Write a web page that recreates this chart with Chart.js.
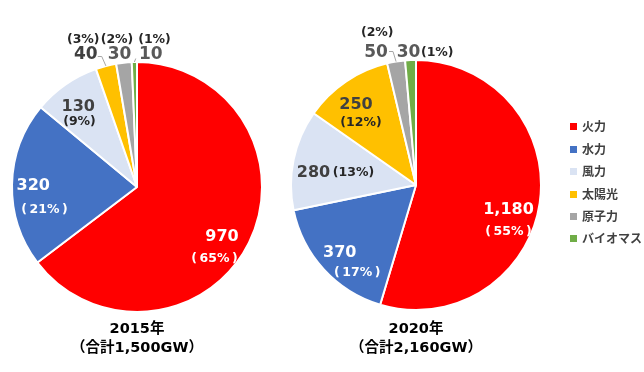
<!DOCTYPE html>
<html>
<head>
<meta charset="utf-8">
<script src="https://cdn.jsdelivr.net/npm/chart.js@4/dist/chart.umd.min.js"></script>
<style>
  html, body { margin:0; padding:0; background:#fff; }
  #wrap { position:relative; width:644px; height:372px; overflow:hidden; }
  canvas { position:absolute; left:0; top:0; }
  .ttl { position:absolute; width:200px; text-align:center; font:bold 14.5px "DejaVu Sans","Noto Sans CJK JP",sans-serif; color:#000; line-height:17px; }
  .ttl span { font-family:"Noto Sans CJK JP",sans-serif; }
  .lg { position:absolute; left:570px; font:bold 12px "Noto Sans CJK JP",sans-serif; color:#404040; height:18px; line-height:18px; white-space:nowrap; }
  .lg i { display:inline-block; width:7px; height:7px; margin-right:5px; vertical-align:middle; position:relative; top:-1px; }
</style>
</head>
<body>
<div id="wrap">
  <canvas id="c1" width="644" height="372"></canvas>
  <canvas id="c2" width="644" height="372"></canvas>
</div>
<script>
// ---- data ----
const categories = ['火力', '水力', '風力', '太陽光', '原子力', 'バイオマス'];
const values2015 = [970, 320, 130, 40, 30, 10];
const values2020 = [1180, 370, 280, 250, 50, 30];
const pct2015 = ['65%', '21%', '9%', '3%', '2%', '1%'];
const pct2020 = ['55%', '17%', '13%', '12%', '2%', '1%'];
const yearTitles = ['2015年', '2020年'];
const totalTitles = ['合計1,500GW', '合計2,160GW'];

// ---- style ----
const colors = ['#FF0000', '#4472C4', '#DAE3F3', '#FFC000', '#A5A5A5', '#70AD47'];
const textColors = ['#FFFFFF', '#FFFFFF', '#404040', '#404040', '#595959', '#595959'];
const pctColors = ['#FFFFFF', '#FFFFFF', '#262626', '#262626', '#262626', '#262626'];
const wideParens = [true, true, false, false, false, false];
// label anchors relative to pie centre, in units of radius: [vx, vy, px, py]
const labelPos2015 = [[0.68,0.40,0.62,0.57],[-0.83,-0.01,-0.74,0.18],[-0.47,-0.64,-0.46,-0.52],[-0.41,-1.06,-0.43,-1.18],[-0.14,-1.06,-0.16,-1.18],[0.11,-1.06,0.14,-1.18]];
const labelPos2020 = [[0.74,0.20,0.74,0.37],[-0.61,0.54,-0.47,0.70],[-0.82,-0.10,-0.50,-0.10],[-0.48,-0.64,-0.44,-0.50],[-0.32,-1.06,-0.31,-1.22],[-0.06,-1.06,0.17,-1.06]];
const outsideValFont = 'bold 17px "DejaVu Sans","Noto Sans CJK JP",sans-serif';
const valFont = 'bold 16px "DejaVu Sans","Noto Sans CJK JP",sans-serif';
const pctFont = 'bold 12.5px "DejaVu Sans","Noto Sans CJK JP",sans-serif';

function labelPlugin(vals, pcts, pos, leaders) {
  return {
    id: 'lbl',
    afterDatasetsDraw(chart) {
      const ctx = chart.ctx;
      const meta = chart.getDatasetMeta(0);
      const arc0 = meta.data[0];
      const cx = arc0.x, cy = arc0.y, r = arc0.outerRadius;
      ctx.save();
      ctx.textAlign = 'center';
      ctx.textBaseline = 'middle';
      ctx.strokeStyle = '#A6A6A6';
      ctx.lineWidth = 1;
      leaders.forEach(l => {
        const arc = meta.data[l.i];
        const mid = (arc.startAngle + arc.endAngle) / 2;
        const ex = cx + Math.cos(mid) * r, ey = cy + Math.sin(mid) * r;
        const sx = cx + pos[l.i][0] * r + l.dx, sy = cy + pos[l.i][1] * r + l.dy;
        ctx.beginPath();
        ctx.moveTo(sx, sy);
        ctx.lineTo(sx + l.hx, sy);
        ctx.lineTo(ex, ey);
        ctx.stroke();
      });
      vals.forEach((v, i) => {
        const p = pos[i];
        const outside = Math.hypot(p[0], p[1]) > 1;
        ctx.font = outside ? outsideValFont : valFont;
        ctx.fillStyle = textColors[i];
        ctx.fillText(v.toLocaleString('en-US'), cx + p[0] * r, cy + p[1] * r);
        ctx.fillStyle = pctColors[i];
        ctx.font = pctFont;
        const txt = wideParens[i] ? '(\u2009' + pcts[i] + '\u2009)' : '(' + pcts[i] + ')';
        ctx.fillText(txt, cx + p[2] * r, cy + p[3] * r);
      });
      ctx.restore();
    }
  };
}

function makePie(id, vals, pad, plugin) {
  return new Chart(document.getElementById(id), {
    type: 'pie',
    data: {
      labels: categories,
      datasets: [{ data: vals, backgroundColor: colors, borderColor: '#FFFFFF', borderWidth: 2 }]
    },
    options: {
      responsive: false,
      animation: false,
      layout: { padding: pad },
      plugins: { legend: { display: false }, tooltip: { enabled: false } }
    },
    plugins: [plugin]
  });
}

makePie('c1', values2015, { left: 11, right: 381, top: 61, bottom: 59 },
  labelPlugin(values2015, pct2015, labelPos2015, [
    { i: 3, dx: 12, dy: 2, hx: 4 },
    { i: 5, dx: -15, dy: 4, hx: 0 }
  ]));
makePie('c2', values2020, { left: 290, right: 102, top: 59, bottom: 61 },
  labelPlugin(values2020, pct2020, labelPos2020, [
    { i: 4, dx: 13, dy: -1, hx: 4 }
  ]));

// titles
const wrap = document.getElementById('wrap');
const titleX = [137, 416];
yearTitles.forEach((t, k) => {
  const d = document.createElement('div');
  d.className = 'ttl';
  d.style.left = (titleX[k] - 100) + 'px';
  d.style.top = '320px';
  d.innerHTML = t + '<br><span>（</span>' + totalTitles[k] + '<span>）</span>';
  wrap.appendChild(d);
});
// legend
const legendY = [126, 149, 171, 194, 216, 238];
categories.forEach((c, i) => {
  const d = document.createElement('div');
  d.className = 'lg';
  d.style.top = (legendY[i] - 9) + 'px';
  d.innerHTML = '<i style="background:' + colors[i] + '"></i>' + c;
  wrap.appendChild(d);
});
</script>
</body>
</html>
